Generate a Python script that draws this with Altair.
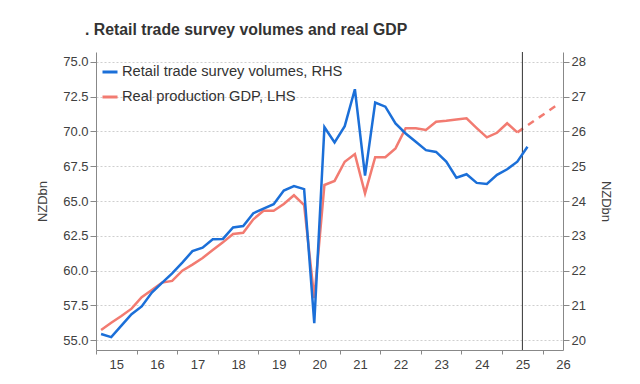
import altair as alt
import pandas as pd

# ---------------- data ----------------
retail_quarters = [f"{y}Q{q}" for y in range(2015, 2026) for q in range(1, 5)][:43]
retail_values = [20.18, 20.09, 20.42, 20.75, 20.97, 21.37, 21.65, 21.92,
                 22.23, 22.56, 22.66, 22.90, 22.91, 23.24, 23.28, 23.65,
                 23.78, 23.91, 24.30, 24.43, 24.34, 20.49, 26.12, 25.68,
                 26.15, 27.21, 24.73, 26.83, 26.71, 26.23, 25.94, 25.70,
                 25.46, 25.41, 25.13, 24.67, 24.77, 24.52, 24.49, 24.75,
                 24.91, 25.13, 25.56]

gdp_quarters = retail_quarters[:42]
gdp_values = [55.74, 56.26, 56.74, 57.27, 58.09, 58.61, 59.14, 59.26,
              60.00, 60.43, 60.91, 61.48, 62.03, 62.63, 62.72, 63.69,
              64.30, 64.30, 64.78, 65.41, 64.71, 58.02, 66.15, 66.44,
              67.82, 68.37, 65.55, 68.14, 68.14, 68.78, 70.22, 70.22,
              70.10, 70.69, 70.76, 70.85, 70.94, 70.24, 69.57, 69.90,
              70.58, 69.93]

forecast_quarters = ["2025Q2", "2025Q3", "2025Q4", "2026Q1", "2026Q2"]
forecast_values = [69.93, 70.43, 70.93, 71.43, 71.94]

vline_x = [2025.5]

series_names = ["Retail trade survey volumes, RHS", "Real production GDP, LHS"]
year_ticks = list(range(2015, 2027))
left_ticks = [55.0, 57.5, 60.0, 62.5, 65.0, 67.5, 70.0, 72.5, 75.0]
right_ticks = [20, 21, 22, 23, 24, 25, 26, 27, 28]

BLUE = "#1b6fd8"
RED = "#f27b71"
FONT = "Liberation Sans"
TXT = "#404040"


def qx(label):
    return int(label[:4]) + (int(label[-1]) - 0.5) / 4


retail_df = pd.DataFrame({"x": [qx(q) for q in retail_quarters], "v": retail_values,
                          "series": series_names[0]})
gdp_df = pd.DataFrame({"x": [qx(q) for q in gdp_quarters], "v": gdp_values,
                       "series": series_names[1]})
fc_df = pd.DataFrame({"x": [qx(q) for q in forecast_quarters], "v": forecast_values})
vline_df = pd.DataFrame({"x": vline_x})

# ---------------- encodings ----------------
x_scale = alt.Scale(domain=[2015, 2026.5], nice=False, zero=False)
x_axis = alt.Axis(values=year_ticks, labelExpr="format(datum.value - 2000, 'd')",
                  labelOffset=20.3, labelFlush=False, tickSize=4, grid=False,
                  title=None, labelPadding=4, domainColor="#888", tickColor="#888")
x_enc = alt.X("x:Q", scale=x_scale, axis=x_axis)

y_left = alt.Y("v:Q", scale=alt.Scale(domain=[54.3, 75.7], nice=False, zero=False),
               axis=alt.Axis(values=left_ticks, format=".1f", title="NZDbn", grid=True,
                             gridDash=[2, 2], gridColor="#cfcfcf", tickSize=6,
                             labelPadding=2, titlePadding=13, domainColor="#888",
                             tickColor="#888"))
y_right = alt.Y("v:Q", scale=alt.Scale(domain=[19.72, 28.28], nice=False, zero=False),
                axis=alt.Axis(values=right_ticks, format="d", title="NZDbn", grid=False,
                              orient="right", tickSize=6, labelPadding=2,
                              titlePadding=13, domainColor="#888", tickColor="#888"))

color_scale = alt.Scale(domain=series_names, range=[BLUE, RED])
legend = alt.Legend(orient="none", legendX=5, legendY=11, title=None,
                    symbolType="stroke", symbolSize=225, symbolStrokeWidth=3,
                    labelFontSize=14.7, labelColor="#333", labelLimit=400,
                    labelFont=FONT, rowPadding=9, padding=0, labelOffset=3)

gdp = alt.Chart(gdp_df).mark_line(strokeWidth=2.5).encode(
    x=x_enc, y=y_left, color=alt.Color("series:N", scale=color_scale, legend=legend))
fc = alt.Chart(fc_df).mark_line(strokeWidth=2.5, strokeDash=[7, 6]).encode(
    x=x_enc, y=y_left, color=alt.value(RED))
vline = alt.Chart(vline_df).mark_rule(color="#333", strokeWidth=1).encode(x=x_enc)
retail = alt.Chart(retail_df).mark_line(strokeWidth=2.5).encode(
    x=x_enc, y=y_right, color=alt.Color("series:N", scale=color_scale, legend=legend))

left = alt.layer(gdp, fc, vline)
chart = alt.layer(left, retail).resolve_scale(y="independent").properties(
    width=467, height=298,
    autosize=alt.AutoSizeParams(type="none"),
    padding={"left": 88, "top": 44, "right": 69, "bottom": 26},
    title=alt.TitleParams(". Retail trade survey volumes and real GDP", anchor="start",
                          frame="group", dx=-11, dy=1, fontSize=15.8, fontWeight="bold",
                          color="#333", font=FONT, offset=2, baseline="alphabetic"),
).configure_view(stroke=None).configure_axis(
    labelFont=FONT, titleFont=FONT, labelFontSize=13, titleFontSize=13,
    labelColor=TXT, titleColor=TXT, titleFontWeight="normal"
)

chart.save("out.html", embed_options={"renderer": "svg", "actions": False})
